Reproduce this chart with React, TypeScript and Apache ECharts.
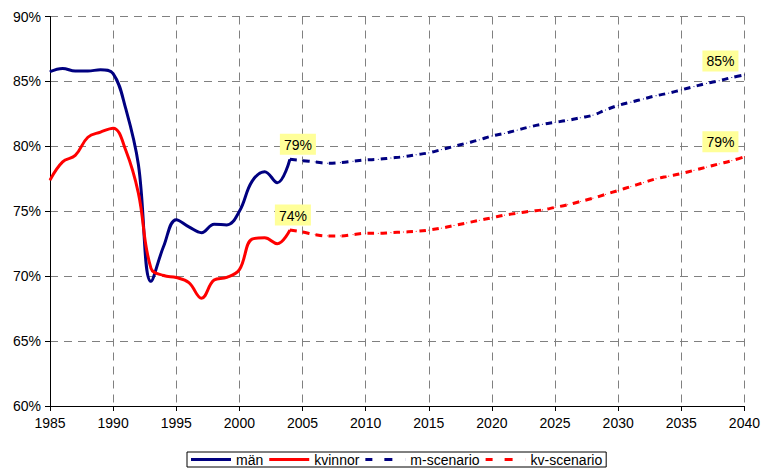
import React, { useEffect, useRef } from "react";
import * as echarts from "echarts";

const menYears = [1985,1986,1987,1988,1989,1990,1991,1992,1993,1994,1995,1996,1997,1998,1999,2000,2001,2002,2003,2004];
const menValues = [85.75,86.0,85.8,85.8,85.9,85.6,82.9,78.6,69.6,72.3,74.35,73.8,73.35,74.0,73.95,75.0,77.3,78.05,77.2,79.0];
const womenValues = [77.4,78.8,79.3,80.7,81.1,81.4,79.7,76.4,70.6,70.05,69.9,69.5,68.3,69.7,69.9,70.5,72.85,72.95,72.5,73.55];

const scenYears = [2004,2005,2006,2007,2008,2009,2010,2011,2012,2013,2014,2015,2016,2017,2018,2019,2020,2021,2022,2023,2024,2025,2026,2027,2028,2029,2030,2031,2032,2033,2034,2035,2036,2037,2038,2039,2040];
const mScenario = [79.0,78.9,78.8,78.7,78.75,78.85,78.95,79.0,79.1,79.2,79.35,79.5,79.75,80.0,80.25,80.5,80.8,81.0,81.25,81.5,81.7,81.85,82.0,82.2,82.4,82.8,83.15,83.4,83.65,83.9,84.1,84.35,84.6,84.85,85.05,85.3,85.5];
const kvScenario = [73.55,73.4,73.2,73.1,73.1,73.2,73.3,73.3,73.35,73.4,73.45,73.55,73.7,73.9,74.1,74.3,74.5,74.7,74.85,75.0,75.1,75.3,75.5,75.75,76.0,76.3,76.6,76.9,77.2,77.5,77.7,77.9,78.15,78.4,78.65,78.9,79.2];

const seriesNames = ["män", "kvinnor", "m-scenario", "kv-scenario"];
const endLabels = ["79%", "74%", "85%", "79%"];
const NAVY = "#000080";
const RED = "#FF0000";
const FONT = "Liberation Sans, Arial, sans-serif";

const SOLID_ICON = "path://M0,0H40V3H0Z";
const DASH_ICON = "path://M0,0H7V3H0Z M19,0H27V3H19Z M39.9,0H40V3H39.9Z";

const labelStyle = (text: string, offset: number[]) => ({
  show: true,
  position: "top",
  distance: 4,
  formatter: text,
  offset,
  backgroundColor: "#FFFF99",
  padding: [4, 4, 3, 4],
  color: "#000",
  fontSize: 14,
  fontFamily: FONT,
});

function pairs(xs: number[], ys: number[], labelIdx: number, label: any) {
  return xs.map((x, i) =>
    i === labelIdx ? { value: [x, ys[i]], label } : { value: [x, ys[i]] }
  );
}

export default function App() {
  const ref = useRef<HTMLDivElement>(null);
  useEffect(() => {
    const chart = echarts.init(ref.current!, null, { renderer: "svg" });
    const dash = [7, 6];
    const common = {
      type: "line",
      smooth: 0.4,
      symbol: "circle",
      symbolSize: 1,
      showSymbol: true,
      z: 3,
      emphasis: { disabled: true },
    };
    chart.setOption({
      animation: false,
      textStyle: { fontFamily: FONT },
      grid: { left: 50, right: 16.5, top: 16.5, bottom: 62 },
      xAxis: {
        type: "value",
        min: 1985,
        max: 2040,
        interval: 5,
        axisLine: { lineStyle: { color: "#000", width: 1 } },
        axisTick: { show: true, inside: false, length: 5, lineStyle: { color: "#000" } },
        axisLabel: { color: "#000", fontSize: 14, margin: 10, formatter: (v: number) => String(v) },
        splitLine: { show: true, lineStyle: { color: "#808080", type: [8, 6], width: 1 } },
      },
      yAxis: {
        type: "value",
        min: 60,
        max: 90,
        interval: 5,
        axisLine: { show: true, lineStyle: { color: "#000", width: 1 } },
        axisTick: { show: true, length: 5, lineStyle: { color: "#000" } },
        axisLabel: { color: "#000", fontSize: 14, margin: 9, formatter: (v: number) => v + "%" },
        splitLine: { show: true, lineStyle: { color: "#808080", type: [8, 6], width: 1 } },
      },
      legend: {
        bottom: 1,
        left: 187,
        data: [
          { name: seriesNames[0], icon: SOLID_ICON },
          { name: seriesNames[1], icon: SOLID_ICON },
          { name: seriesNames[2], icon: DASH_ICON },
          { name: seriesNames[3], icon: DASH_ICON },
        ],
        itemWidth: 40,
        itemHeight: 3,
        itemGap: 6,
        padding: [0, 4, 0, 4],
        borderColor: "#000",
        borderWidth: 1,
        textStyle: { color: "#000", fontSize: 14, fontFamily: FONT, lineHeight: 15 },
      },
      series: [
        {
          ...common,
          name: seriesNames[0],
          lineStyle: { color: NAVY, width: 3 },
          itemStyle: { color: NAVY },
          data: pairs(menYears, menValues, menYears.length - 1, labelStyle(endLabels[0], [8, 0])),
        },
        {
          ...common,
          name: seriesNames[1],
          lineStyle: { color: RED, width: 3 },
          itemStyle: { color: RED },
          data: pairs(menYears, womenValues, menYears.length - 1, labelStyle(endLabels[1], [3, 0])),
        },
        {
          ...common,
          name: seriesNames[2],
          lineStyle: { color: NAVY, width: 3, type: dash },
          itemStyle: { color: NAVY },
          data: pairs(scenYears, mScenario, scenYears.length - 1, labelStyle(endLabels[2], [-24, 1])),
        },
        {
          ...common,
          name: seriesNames[3],
          lineStyle: { color: RED, width: 3, type: dash },
          itemStyle: { color: RED },
          data: pairs(scenYears, kvScenario, scenYears.length - 1, labelStyle(endLabels[3], [-24, 0])),
        },
      ],
    });
    return () => chart.dispose();
  }, []);
  return <div ref={ref} style={{ width: 763, height: 468, position: "absolute", left: 0, top: 0 }} />;
}
